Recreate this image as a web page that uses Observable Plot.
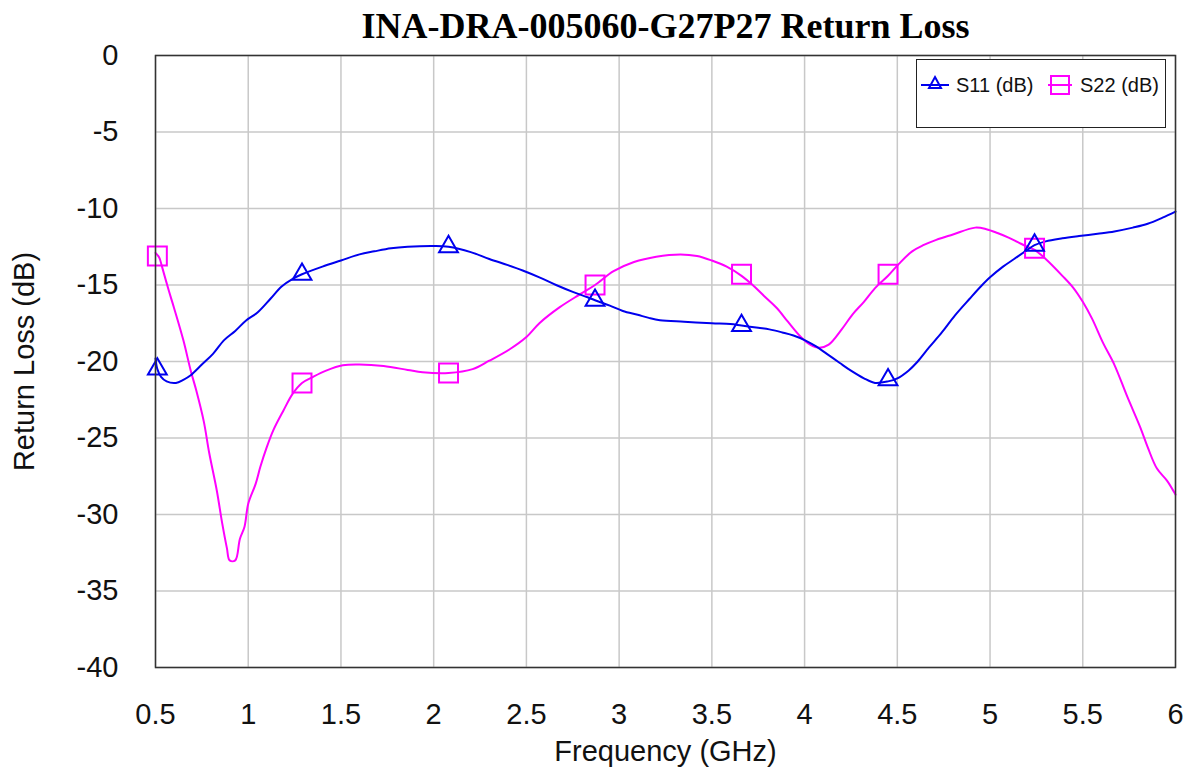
<!DOCTYPE html>
<html>
<head>
<meta charset="utf-8">
<script src="https://cdn.jsdelivr.net/npm/d3@7"></script>
<script src="https://cdn.jsdelivr.net/npm/@observablehq/plot@0.6"></script>
<style>
  html, body { margin: 0; padding: 0; background: #fff; }
  #wrap { position: relative; width: 1191px; height: 776px; }
  #legend { position: absolute; left: 916px; top: 59px; width: 248px; height: 67px; border: 1.5px solid #222; background: #fff; font-family: "Liberation Sans", Arial, sans-serif; font-size: 20px; color: #111; }
  #legend .item { position: absolute; top: 13px; display: flex; align-items: center; }
  #legend svg { display: block; }
</style>
</head>
<body>
<div id="wrap"></div>
<script>
const titleText = "INA-DRA-005060-G27P27 Return Loss";
const xLabel = "Frequency (GHz)";
const yLabel = "Return Loss (dB)";
const seriesNames = ["S11 (dB)", "S22 (dB)"];
const seriesColors = ["#0000ee", "#ff00ff"];
const xTicks = [0.5, 1, 1.5, 2, 2.5, 3, 3.5, 4, 4.5, 5, 5.5, 6];
const yTicks = [0, -5, -10, -15, -20, -25, -30, -35, -40];

const freqS11 = [0.50,0.51,0.53,0.56,0.61,0.65,0.69,0.75,0.81,0.87,0.93,0.99,1.05,1.12,1.18,1.24,1.29,1.40,1.50,1.60,1.68,1.77,1.86,2.00,2.08,2.20,2.30,2.40,2.48,2.57,2.66,2.75,2.83,2.87,2.95,3.02,3.10,3.16,3.22,3.35,3.50,3.60,3.66,3.75,3.81,3.88,3.94,4.00,4.06,4.12,4.19,4.25,4.32,4.38,4.45,4.50,4.56,4.61,4.67,4.74,4.81,4.89,4.95,5.00,5.07,5.13,5.19,5.24,5.30,5.39,5.48,5.58,5.67,5.77,5.85,5.93,6.00];
const s11 = [-19.8,-20.5,-21.0,-21.3,-21.4,-21.2,-20.9,-20.2,-19.5,-18.6,-18.0,-17.3,-16.8,-15.9,-15.1,-14.6,-14.3,-13.8,-13.4,-13.0,-12.8,-12.6,-12.5,-12.45,-12.5,-12.85,-13.3,-13.7,-14.05,-14.5,-15.0,-15.45,-15.8,-16.0,-16.35,-16.7,-16.95,-17.15,-17.3,-17.4,-17.5,-17.55,-17.65,-17.8,-17.9,-18.1,-18.3,-18.6,-19.0,-19.5,-20.1,-20.6,-21.1,-21.4,-21.3,-21.1,-20.6,-20.0,-19.1,-18.1,-17.0,-15.9,-15.1,-14.5,-13.8,-13.3,-12.8,-12.4,-12.15,-11.95,-11.8,-11.65,-11.5,-11.25,-11.0,-10.6,-10.2];

const freqS22 = [0.50,0.52,0.535,0.57,0.60,0.65,0.69,0.72,0.76,0.79,0.83,0.86,0.885,0.90,0.93,0.955,0.98,1.00,1.04,1.065,1.10,1.135,1.19,1.24,1.29,1.35,1.42,1.51,1.60,1.73,1.86,1.94,2.08,2.21,2.30,2.41,2.50,2.57,2.68,2.79,2.87,2.97,3.08,3.20,3.33,3.42,3.50,3.58,3.66,3.72,3.78,3.85,3.91,3.98,4.03,4.08,4.13,4.20,4.26,4.32,4.38,4.45,4.51,4.58,4.64,4.71,4.80,4.92,4.98,5.04,5.10,5.15,5.20,5.24,5.30,5.39,5.45,5.50,5.55,5.61,5.67,5.74,5.81,5.85,5.90,5.955,6.00];
const s22 = [-12.9,-13.2,-13.8,-15.3,-16.5,-18.6,-20.6,-21.9,-23.9,-26.0,-28.4,-30.6,-32.2,-33.0,-33.0,-31.6,-30.8,-29.3,-28.0,-26.9,-25.6,-24.5,-23.2,-22.1,-21.4,-21.0,-20.6,-20.25,-20.2,-20.3,-20.55,-20.7,-20.75,-20.5,-19.95,-19.2,-18.4,-17.5,-16.45,-15.6,-15.0,-14.1,-13.5,-13.15,-13.0,-13.1,-13.4,-13.8,-14.4,-15.0,-15.7,-16.5,-17.4,-18.4,-18.9,-19.1,-18.9,-17.9,-16.9,-16.1,-15.2,-14.4,-13.6,-12.8,-12.4,-12.05,-11.7,-11.25,-11.35,-11.6,-11.9,-12.2,-12.5,-12.7,-13.3,-14.4,-15.2,-16.1,-17.2,-18.8,-20.2,-22.3,-24.3,-25.6,-27.0,-27.8,-28.7];

const markerFreq = [0.51, 1.29, 2.08, 2.87, 3.66, 4.45, 5.24];
const markerS11 = [-20.5, -14.3, -12.5, -16.0, -17.65, -21.2, -12.4];
const markerS22 = [-13.1, -21.4, -20.75, -15.0, -14.3, -14.3, -12.6];

const rowsS11 = freqS11.map((f, i) => ({f, v: s11[i]}));
const rowsS22 = freqS22.map((f, i) => ({f, v: s22[i]}));
const mS11 = markerFreq.map((f, i) => ({f, v: markerS11[i]}));
const mS22 = markerFreq.map((f, i) => ({f, v: markerS22[i]}));

const sans = "'Liberation Sans', Arial, sans-serif";

const chart = Plot.plot({
  width: 1191,
  height: 776,
  marginTop: 55,
  marginLeft: 155,
  marginRight: 16,
  marginBottom: 109,
  style: { fontFamily: sans, fontSize: "29px", color: "#111", background: "#fff", overflow: "visible" },
  x: { domain: [0.5, 6] },
  y: { domain: [-40, 0] },
  marks: [
    Plot.gridX(xTicks, { stroke: "#c8c8c8", strokeOpacity: 1, strokeWidth: 1.5 }),
    Plot.gridY(yTicks, { stroke: "#c8c8c8", strokeOpacity: 1, strokeWidth: 1.5 }),
    Plot.axisX(xTicks, { tickSize: 0, tickPadding: 36, tickFormat: d => String(d), label: xLabel, labelAnchor: "center", labelArrow: "none", labelOffset: 93, fontSize: 29 }),
    Plot.axisY(yTicks, { tickSize: 0, tickPadding: 37, tickFormat: d => String(d), label: yLabel, labelAnchor: "center", labelArrow: "none", labelOffset: 142, fontSize: 29 }),
    Plot.line(rowsS22, { x: "f", y: "v", stroke: seriesColors[1], strokeWidth: 2, curve: "catmull-rom" }),
    Plot.line(rowsS11, { x: "f", y: "v", stroke: seriesColors[0], strokeWidth: 2, curve: "catmull-rom" }),
    Plot.dot(mS22, { x: "f", y: "v", symbol: "square", r: 10.7, stroke: seriesColors[1], strokeWidth: 2, fill: "none" }),
    Plot.dot(mS11, { x: "f", y: "v", symbol: "triangle", r: 7, stroke: seriesColors[0], strokeWidth: 2, fill: "none" }),
    Plot.frame({ stroke: "#333", strokeWidth: 1.5 }),
    Plot.text([titleText], { frameAnchor: "top", dy: -29, lineAnchor: "middle", fontFamily: "'Liberation Serif', 'Times New Roman', serif", fontWeight: "bold", fontSize: 36, fill: "#000" })
  ]
});

const wrap = document.getElementById("wrap");
wrap.appendChild(chart);

const legend = document.createElement("div");
legend.id = "legend";
legend.innerHTML = `
  <div class="item" style="left:3px">
    <svg width="30" height="24"><line x1="1" y1="12" x2="29" y2="12" stroke="${seriesColors[0]}" stroke-width="2"/><path d="M15 4 L21 15 L9 15 Z" fill="none" stroke="${seriesColors[0]}" stroke-width="2"/></svg>
    <span style="margin-left:6px">${seriesNames[0]}</span>
  </div>
  <div class="item" style="left:130px">
    <svg width="26" height="24"><line x1="1" y1="12" x2="25" y2="12" stroke="${seriesColors[1]}" stroke-width="2"/><rect x="4" y="3" width="18" height="18" fill="none" stroke="${seriesColors[1]}" stroke-width="2"/></svg>
    <span style="margin-left:7px">${seriesNames[1]}</span>
  </div>`;
wrap.appendChild(legend);
</script>
</body>
</html>
